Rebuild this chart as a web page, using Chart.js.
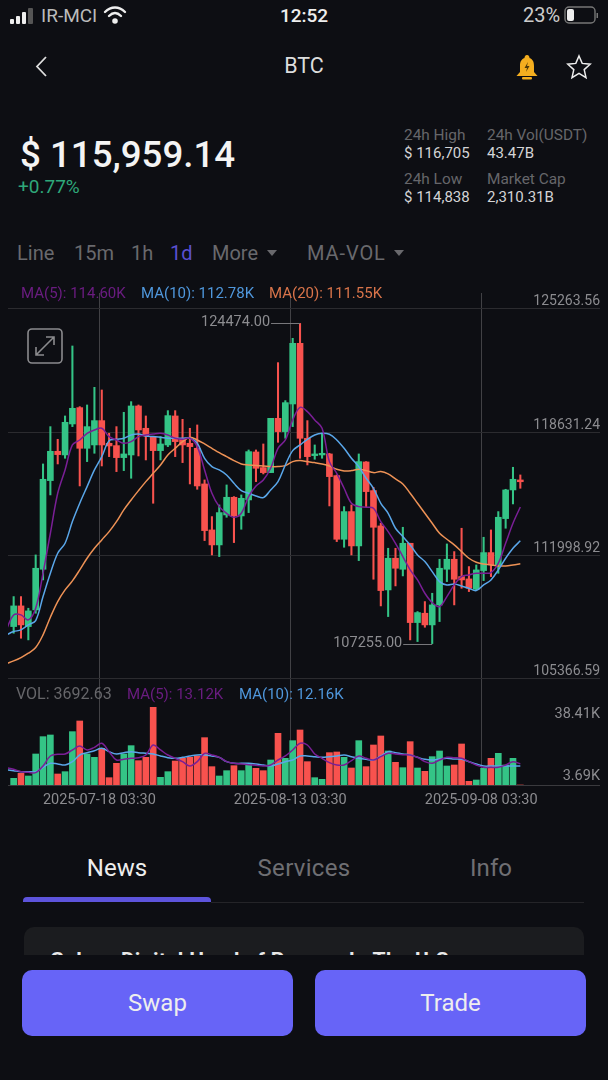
<!DOCTYPE html>
<html>
<head>
<meta charset="utf-8">
<title>BTC</title>
<script src="https://cdn.jsdelivr.net/npm/chart.js@4/dist/chart.umd.js"></script>
<style>
html, body { margin: 0; padding: 0; background: #0d0e13; }
body { position: relative; width: 608px; height: 1080px; overflow: hidden; font-family: Roboto, sans-serif; color: #ddd; }
.t { position: absolute; white-space: nowrap; line-height: 1; transform: translateY(-50%); }
.c { transform: translate(-50%, -50%); }
.tab { font-size: 20px; color: #69696d; top: 253px; }
.head { font-size: 15.4px; color: #66666a; }
.val { font-size: 15px; color: #d4d4d6; }
.ma { font-size: 15px; }
.ico { position: absolute; }
#chart { position: absolute; left: 0; top: 280px; }
.tri { position: absolute; top: 250px; width: 0; height: 0; border-left: 5px solid transparent; border-right: 5px solid transparent; border-top: 6px solid #69696d; }
.btn { position: absolute; top: 970px; height: 66px; width: 271px; background: #6764f7; border-radius: 10px; color: #eee; font-size: 24px; line-height: 66px; text-align: center; }
.bt { font-size: 24px; color: #6f6f73; top: 868px; }
</style>
</head>
<body>
<canvas id="chart" width="608" height="530"></canvas>

<!-- status bar -->
<svg class="ico" style="left:9px;top:6px" width="28" height="18">
  <rect x="1" y="13" width="4" height="5" rx="1" fill="#eee"/><rect x="7" y="10" width="4" height="8" rx="1" fill="#eee"/>
  <rect x="13" y="6" width="4" height="12" rx="1" fill="#eee"/><rect x="19" y="2" width="5" height="16" rx="1" fill="#555"/>
</svg>
<div class="t" style="left:41px;top:15px;font-size:19px;color:#bbb">IR-MCI</div>
<svg class="ico" style="left:103px;top:5px" width="24" height="20" viewBox="0 0 24 20" fill="none" stroke="#eee" stroke-width="2.4" stroke-linecap="round">
  <path d="M2 7 C8 1 16 1 22 7"/><path d="M6 11 C10 7 14 7 18 11"/><circle cx="12" cy="16" r="1.6" fill="#eee"/>
</svg>
<div class="t c" style="left:304px;top:15px;font-size:19px;font-weight:500;color:#eee">12:52</div>
<div class="t" style="left:523px;top:15px;font-size:20px;color:#ccc">23%</div>
<svg class="ico" style="left:563px;top:5px" width="36" height="20">
  <rect x="2" y="2" width="30" height="16" rx="4" fill="none" stroke="#777" stroke-width="1.4"/>
  <rect x="4" y="4" width="7" height="12" rx="2" fill="#eee"/><rect x="33.5" y="8" width="1.5" height="5" fill="#777"/>
</svg>

<!-- nav -->
<svg class="ico" style="left:34px;top:55px" width="16" height="24" fill="none" stroke="#ddd" stroke-width="1.8"><path d="M12 2 L3 11.5 L12 21"/></svg>
<div class="t c" style="left:304px;top:66px;font-size:21.5px;color:#ddd">BTC</div>
<svg class="ico" style="left:515px;top:54px" width="24" height="26">
  <path d="M12 1 C14 1 14.5 3 14.5 4 C18 5.5 19 8 19 12 L19 18 L22.5 22 L1.5 22 L5 18 L5 12 C5 8 6 5.5 9.5 4 C9.5 3 10 1 12 1 Z" fill="#f4ae1f"/>
  <rect x="7" y="23" width="10" height="2.4" rx="1" fill="#f4ae1f"/><path d="M13 8 L9.5 14 L12 14 L11 18 L14.5 12 L12 12 Z" fill="#503a08"/>
</svg>
<svg class="ico" style="left:566px;top:54px" width="26" height="26" fill="none" stroke="#eee" stroke-width="1.5"><path d="M13 2 L16.2 9.4 L24.2 10.2 L18.2 15.6 L20 23.6 L13 19.4 L6 23.6 L7.8 15.6 L1.8 10.2 L9.8 9.4 Z"/></svg>

<!-- price header -->
<div class="t" style="left:20px;top:155px;font-size:36.7px;font-weight:500;color:#f4f4f4">$ 115,959.14</div>
<div class="t" style="left:18px;top:186px;font-size:19px;color:#2fa87a">+0.77%</div>
<div class="t head" style="left:404px;top:136px">24h High</div>
<div class="t val" style="left:404px;top:153px">$ 116,705</div>
<div class="t head" style="left:404px;top:180px">24h Low</div>
<div class="t val" style="left:404px;top:197px">$ 114,838</div>
<div class="t head" style="left:487px;top:136px">24h Vol(USDT)</div>
<div class="t val" style="left:487px;top:153px">43.47B</div>
<div class="t head" style="left:487px;top:180px">Market Cap</div>
<div class="t val" style="left:487px;top:197px">2,310.31B</div>

<!-- interval tabs -->
<div class="t tab" style="left:17px">Line</div>
<div class="t tab" style="left:74px">15m</div>
<div class="t tab" style="left:131px">1h</div>
<div class="t tab" style="left:170px;color:#5a4fd0">1d</div>
<div class="t tab" style="left:212px">More</div><div class="tri" style="left:267px"></div>
<div class="t tab" style="left:307px;letter-spacing:.9px">MA-VOL</div><div class="tri" style="left:394px"></div>

<!-- chart legends -->
<div class="t ma" style="left:21px;top:293px;color:#6a1c80">MA(5): 114.60K</div>
<div class="t ma" style="left:141px;top:293px;color:#4f97dc">MA(10): 112.78K</div>
<div class="t ma" style="left:269px;top:293px;color:#d9744a">MA(20): 111.55K</div>
<div class="t ma" style="left:16px;top:694px;color:#66666a;font-size:16px">VOL: 3692.63</div>
<div class="t ma" style="left:127px;top:694px;color:#6a1c80">MA(5): 13.12K</div>
<div class="t ma" style="left:239px;top:694px;color:#4f97dc">MA(10): 12.16K</div>

<svg class="ico" style="left:27px;top:328px" width="37" height="37" fill="none" stroke="#8b8b8e" stroke-width="1.6">
  <rect x="1" y="1" width="34" height="34" rx="4"/>
  <path d="M9 27 L27 9 M19 9 L27 9 L27 17 M9 19 L9 27 L17 27"/>
</svg>

<!-- bottom tabs -->
<div class="t c bt" style="left:117px;color:#eee">News</div>
<div class="t c bt" style="left:304px;letter-spacing:.3px">Services</div>
<div class="t c bt" style="left:491px">Info</div>
<div class="ico" style="left:211px;top:902px;width:373px;height:1px;background:#242428"></div>
<div class="ico" style="left:23px;top:897px;width:188px;height:5px;background:#5d54dc;border-radius:4px 4px 0 0"></div>

<div class="ico" style="left:24px;top:927px;width:560px;height:28px;background:#1b1c1f;border-radius:10px 10px 0 0;overflow:hidden">
  <div style="position:absolute;left:26px;top:21px;font-size:21px;font-weight:700;color:#e8e8e8;white-space:nowrap;letter-spacing:.3px">Galaxy Digital Head of Research: The U.S</div>
</div>

<div class="btn" style="left:22px">Swap</div>
<div class="btn" style="left:315px">Trade</div>

<script>
const opens = [108170, 109281, 108170, 109066, 111252, 116019, 117596, 117399, 119066, 119944,
    117757, 117937, 119245, 118026, 117901, 117256, 117399, 120033, 118833, 118349,
    117632, 117937, 119496, 118295, 118026, 117757, 115840, 113367, 112561, 114173,
    115123, 114120, 114980, 117560, 116718, 116449, 119370, 118653, 120141, 123402,
    118295, 117363, 117399, 117453, 116288, 112865, 114353, 112507, 117023, 115482,
    113582, 110141, 111844, 111252, 112650, 108385, 108887, 108260, 109335, 111252,
    111790, 110858, 110733, 110177, 111181, 112148, 111485, 113976, 115517, 116055];
const closes = [109281, 108260, 109012, 111306, 116091, 117596, 117417, 119155, 119908, 117757,
    118922, 119245, 117937, 117883, 117256, 117453, 120033, 118743, 118420, 117632,
    117990, 119514, 118116, 117937, 117847, 115732, 113331, 112561, 114299, 115123,
    114120, 115069, 117578, 116682, 116449, 119370, 118653, 120212, 123402, 118295,
    117309, 117453, 117489, 116234, 112865, 114353, 112507, 117041, 115428, 113510,
    110106, 111844, 111306, 112650, 108385, 108923, 108260, 109335, 111306, 111790,
    110715, 110679, 110231, 111217, 112148, 111485, 114048, 115517, 116091, 115959];
const highs = [109783, 109783, 109156, 112023, 116915, 118922, 118241, 119496, 123259, 119997,
    120087, 121037, 120893, 118564, 118922, 119693, 120266, 120087, 119496, 118385,
    118385, 119782, 119782, 119316, 118833, 119012, 116055, 114084, 114711, 115786,
    115159, 115249, 117668, 117668, 117990, 119370, 122363, 120320, 123671, 124474,
    119245, 117937, 118564, 117489, 116324, 114621, 114711, 117453, 117041, 115661,
    113725, 112381, 112381, 113510, 112650, 108977, 109514, 109962, 111790, 112614,
    112202, 113457, 111396, 111485, 112973, 113367, 114353, 115553, 116736, 116324];
const lows = [107812, 107543, 107453, 108887, 110679, 115249, 116915, 117220, 118922, 115732,
    117041, 117489, 116807, 117309, 116503, 116557, 116145, 117345, 117130, 114801,
    117130, 117847, 117309, 116987, 115840, 115553, 112794, 112023, 111933, 114048,
    112686, 113403, 114299, 115965, 116378, 116449, 118080, 118295, 118922, 117220,
    116861, 117166, 117220, 114657, 112740, 112435, 112023, 111718, 114621, 110715,
    109281, 108708, 110356, 110894, 107453, 107364, 108134, 107255, 108439, 110589,
    109335, 110231, 110052, 110141, 110643, 110858, 111037, 113457, 114765, 115607];

// Les moyennes commencent un jour avant la première bougie visible
const ma5 = [108010, 108797, 108797, 108529, 109156, 111037, 113188, 115338, 116593, 117937, 118205,
    118564, 118743, 118833, 118385, 118205, 118026, 118116, 118385, 118474, 118528,
    118564, 118474, 118295, 118241, 118295, 117847, 116593, 115338, 114621, 114263,
    114048, 114263, 115159, 115732, 116055, 116682, 117757, 118205, 119281, 119962,
    119729, 119281, 118833, 117041, 116413, 115607, 114801, 114621, 114586, 114532,
    113815, 113277, 112650, 111933, 111217, 110679, 109962, 109460, 109245, 109783,
    110410, 110858, 110948, 111037, 111037, 111073, 111575, 112650, 113725, 114600];
const ma10 = [107720, 107901, 107991, 108260, 108493, 109783, 111037, 112113, 112650, 113815, 114801,
    115697, 116593, 117309, 118170, 118241, 118295, 118474, 118528, 118420, 118385,
    118349, 118295, 118295, 118295, 118295, 118026, 117220, 116772, 116593, 116324,
    115876, 115482, 115338, 115195, 115105, 115517, 115965, 116861, 117632, 117937,
    118241, 118474, 118564, 118510, 118205, 117757, 117220, 116772, 116145, 115607,
    114801, 114263, 113457, 113009, 112561, 112023, 111665, 111127, 110589, 110410,
    110464, 110356, 110231, 110106, 110410, 110679, 111217, 111844, 112381, 112780];
const ma20 = [106180, 106324, 106504, 106737, 107041, 107722, 108672, 109514, 110141, 110625, 111217,
    111844, 112381, 112829, 113277, 113815, 114442, 114980, 115482, 115965, 116413,
    116861, 117399, 117757, 118116, 118349, 118205, 117990, 117757, 117524, 117309,
    117094, 116915, 116861, 116826, 116807, 116772, 116772, 116826, 117041, 117094,
    117041, 116987, 116915, 116807, 116628, 116539, 116557, 116628, 116557, 116449,
    116503, 116378, 116109, 115840, 115338, 114801, 114263, 113725, 113188, 112865,
    112561, 112202, 111844, 111629, 111539, 111485, 111432, 111432, 111485, 111550];

const volumes = [6672, 8907, 7715, 17549, 25297, 26042, 8609, 9652, 27532, 32300,
    17549, 16059, 20082, 6970, 13377, 17549, 21274, 14569, 16059, 38410,
    7119, 9652, 14420, 15612, 16059, 16655, 24850, 11887, 7715, 10099,
    12334, 10099, 13377, 11142, 10099, 14867, 26787, 15612, 23509, 28277,
    14122, 6970, 6225, 18145, 18443, 16059, 11291, 23509, 11887, 21572,
    25595, 18890, 13824, 11440, 23062, 11291, 9801, 16357, 18890, 12185,
    12632, 22019, 5331, 5927, 11142, 15612, 17847, 12632, 15612, 3692.63];
const volMa5 = [11400, 10695, 9652, 9354, 9205, 12185, 16655, 17400, 17549, 19337, 21125,
    19337, 20529, 22317, 18592, 14867, 15165, 15612, 15910, 17102, 21572,
    19337, 17102, 15612, 14122, 12185, 14122, 17847, 17102, 16059, 14122,
    13377, 13079, 12781, 12483, 12185, 12632, 14867, 16655, 19337, 22317,
    21572, 17549, 15612, 13675, 12632, 12632, 14569, 16655, 15612, 14867,
    16357, 17847, 17549, 17251, 17102, 16059, 14122, 13377, 14867, 16059,
    15910, 15612, 14122, 12632, 11589, 11589, 11589, 12632, 14122, 13120];
const volMa10 = [10500, 10099, 9652, 9652, 9652, 11589, 13377, 13079, 12632, 14122, 17102,
    18145, 19039, 20082, 18592, 17549, 18145, 18592, 18145, 17847, 17549,
    16655, 15910, 15612, 16059, 16655, 17102, 17102, 16655, 16059, 14122,
    13377, 13377, 13377, 13079, 12632, 12185, 13079, 14122, 14867, 16655,
    16655, 16357, 16059, 16357, 16655, 17102, 16357, 15612, 15165, 14867,
    16655, 18592, 18145, 17549, 17102, 16059, 15165, 14867, 15314, 15612,
    15314, 15165, 14122, 13079, 12185, 12185, 12185, 12185, 12185, 12160];

const priceTicks = [125263.56, 118631.24, 111998.92, 105366.59];
const volTicks = [38410, 3692.63];
const volTickLabels = ["38.41K", "3.69K"];
const dateLabels = ["2025-07-18 03:30", "2025-08-13 03:30", "2025-09-08 03:30"];
const dateTicks = [11.67, 37.67, 63.67];

const UP = "#34c486";
const DOWN = "#f8524e";
const TEXT = "#8c8c90";

const candleColor = closes.map((c, i) => (c >= opens[i] ? UP : DOWN));
const xy = (values, first) => values.map((y, i) => ({ x: i + first, y: y }));

// Libellés du plus haut / plus bas, et les deux graduations du volume
const annotations = {
    id: "annotations",
    afterDatasetsDraw(chart) {
        const ctx = chart.ctx;
        const { x, y, yVol } = chart.scales;
        const hi = highs.indexOf(Math.max(...highs));
        const lo = lows.indexOf(Math.min(...lows));
        ctx.save();
        ctx.font = "14.5px Roboto";
        ctx.fillStyle = TEXT;
        ctx.strokeStyle = "#77777b";
        ctx.lineWidth = 1;
        ctx.textAlign = "right";
        ctx.textBaseline = "middle";
        [[hi, highs[hi]], [lo, lows[lo]]].forEach(([i, v]) => {
            const px = x.getPixelForValue(i);
            const py = Math.round(y.getPixelForValue(v)) + 0.5;
            ctx.fillText(v.toFixed(2), px - 30, py - 1);
            ctx.beginPath();
            ctx.moveTo(px - 29, py);
            ctx.lineTo(px, py);
            ctx.stroke();
        });
        ctx.textBaseline = "top";
        ctx.fillText(volTickLabels[0], chart.chartArea.right, yVol.getPixelForValue(volTicks[0]));
        ctx.textBaseline = "bottom";
        ctx.fillText(volTickLabels[1], chart.chartArea.right, yVol.getPixelForValue(volTicks[1]) - 1);
        ctx.restore();
    }
};

function lineSet(label, data, color, axis) {
    return {
        type: "line", label: label, data: xy(data, -1), yAxisID: axis,
        borderColor: color, borderWidth: 1.5, pointRadius: 0, tension: 0.35, order: 1
    };
}

// La hauteur du libellé ne doit pas décaler la zone du graphique
function flatAxis(s) {
    s.width = 0;
    s.paddingTop = 0;
    s.paddingBottom = 0;
}

new Chart(document.getElementById("chart").getContext("2d"), {
    data: {
        datasets: [
            lineSet("MA5", ma5, "#7a1f96", "y"),
            lineSet("MA10", ma10, "#5aa7ea", "y"),
            lineSet("MA20", ma20, "#ee9256", "y"),
            lineSet("VOL MA5", volMa5, "#7a1f96", "yVol"),
            lineSet("VOL MA10", volMa10, "#5aa7ea", "yVol"),
            {
                type: "bar", label: "wick", yAxisID: "y", order: 3, grouped: false,
                data: highs.map((h, i) => ({ x: i, y: [lows[i], h] })),
                backgroundColor: candleColor, barThickness: 1.4
            },
            {
                type: "bar", label: "body", yAxisID: "y", order: 2, grouped: false,
                data: opens.map((o, i) => ({ x: i, y: [o, closes[i]] })),
                backgroundColor: candleColor, barThickness: 6, minBarLength: 1.5
            },
            {
                type: "bar", label: "volume", yAxisID: "yVol", order: 2, grouped: false,
                data: xy(volumes, 0),
                backgroundColor: candleColor, barThickness: 6, minBarLength: 1.2
            }
        ]
    },
    options: {
        responsive: false,
        animation: false,
        events: [],
        layout: { autoPadding: false, padding: { left: 8, right: 8, top: 13, bottom: 0 } },
        plugins: { legend: { display: false }, tooltip: { enabled: false } },
        scales: {
            x: {
                type: "linear", min: -0.77, max: 79.85, offset: false,
                afterBuildTicks: (s) => { s.ticks = dateTicks.map((v) => ({ value: v })); },
                afterFit: (s) => { s.height = 25; },
                grid: { color: "#414145", drawTicks: false, offset: false },
                border: { display: false },
                ticks: {
                    autoSkip: false, maxRotation: 0, padding: 7, color: TEXT,
                    font: { family: "Roboto", size: 14.5 },
                    callback: (v, i) => dateLabels[i]
                }
            },
            y: {
                position: "right", stack: "panes", stackWeight: 387,
                min: 105297, max: 126108,
                afterBuildTicks: (s) => { s.ticks = priceTicks.map((v) => ({ value: v })); },
                afterFit: flatAxis,
                grid: { color: "#2b2b2f", drawTicks: false },
                border: { display: false },
                ticks: {
                    mirror: true, align: "end", autoSkip: false, padding: 0, color: TEXT,
                    font: { family: "Roboto", size: 14 },
                    callback: (v) => v.toFixed(2)
                }
            },
            yVol: {
                position: "right", stack: "panes", stackWeight: 105,
                min: 3692.63, max: 50613,
                afterBuildTicks: (s) => { s.ticks = [{ value: volTicks[1] }]; },
                afterFit: flatAxis,
                grid: { color: "#3a3a3e", drawTicks: false },
                border: { display: false },
                ticks: { display: false }
            }
        }
    },
    plugins: [annotations]
});
</script>
</body>
</html>
